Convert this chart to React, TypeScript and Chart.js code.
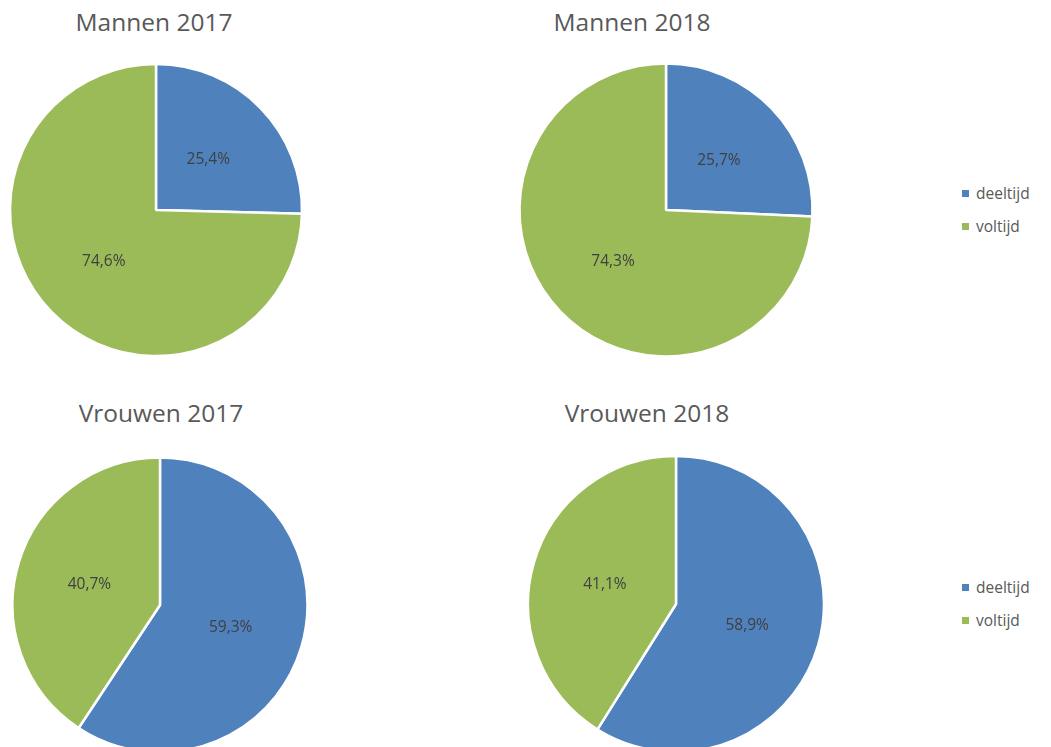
import React, { useEffect, useRef } from "react";
import { Chart, registerables } from "chart.js";

Chart.register(...registerables);

const categories = ["deeltijd", "voltijd"];
const chartTitles = ["Mannen 2017", "Mannen 2018", "Vrouwen 2017", "Vrouwen 2018"];
const mannen2017 = [25.4, 74.6];
const mannen2018 = [25.7, 74.3];
const vrouwen2017 = [59.3, 40.7];
const vrouwen2018 = [58.9, 41.1];
const seriesList = [mannen2017, mannen2018, vrouwen2017, vrouwen2018];
const sliceColors = ["#4F81BD", "#9BBB59"];

const FONT = "'Open Sans', 'DejaVu Sans', sans-serif";
const BOX = 310;

// layout: pie center, radius, title center/top
const layouts = [
  { cx: 156, cy: 209.5, r: 146, tx: 154, ty: 6 },
  { cx: 665.5, cy: 209.5, r: 146.5, tx: 632, ty: 6 },
  { cx: 159.5, cy: 604.5, r: 147.5, tx: 161, ty: 397 },
  { cx: 676, cy: 604, r: 148, tx: 647, ty: 397 },
];
const legendRows = [193, 587];

const labelPlugin = {
  id: "sliceLabels",
  afterDatasetsDraw(chart: any) {
    const ctx = chart.ctx;
    const meta = chart.getDatasetMeta(0);
    const data = chart.data.datasets[0].data as number[];
    ctx.save();
    ctx.font = `15.5px ${FONT}`;
    ctx.fillStyle = "#404040";
    ctx.textAlign = "center";
    ctx.textBaseline = "middle";
    meta.data.forEach((arc: any, i: number) => {
      const p = arc.getCenterPoint();
      ctx.fillText(data[i].toFixed(1).replace(".", ",") + "%", p.x, p.y + 1);
    });
    ctx.restore();
  },
};

function Pie({ idx }: { idx: number }) {
  const ref = useRef<HTMLCanvasElement>(null);
  const L = layouts[idx];
  useEffect(() => {
    if (!ref.current) return;
    const chart = new Chart(ref.current, {
      type: "pie",
      data: {
        labels: categories,
        datasets: [
          {
            data: seriesList[idx],
            backgroundColor: sliceColors,
            borderColor: "#ffffff",
            borderWidth: 2.5,
            hoverOffset: 0,
          },
        ],
      },
      options: {
        responsive: false,
        maintainAspectRatio: false,
        animation: false,
        radius: L.r,
        layout: { padding: 0 },
        plugins: {
          legend: { display: false },
          title: { display: false },
          tooltip: { enabled: false },
        },
      } as any,
      plugins: [labelPlugin],
    });
    return () => chart.destroy();
  }, [idx]);
  return (
    <canvas
      ref={ref}
      width={BOX}
      height={BOX}
      style={{
        position: "absolute",
        left: L.cx - BOX / 2,
        top: L.cy - BOX / 2,
        width: BOX,
        height: BOX,
      }}
    />
  );
}

export default function App() {
  return (
    <div
      style={{
        position: "absolute",
        left: 0,
        top: 0,
        width: 1051,
        height: 747,
        overflow: "hidden",
        background: "#ffffff",
        fontFamily: FONT,
      }}
    >
      {layouts.map((L, i) => (
        <React.Fragment key={i}>
          <Pie idx={i} />
          <div
            style={{
              position: "absolute",
              left: L.tx - 150,
              top: L.ty,
              width: 300,
              textAlign: "center",
              fontSize: 24.5,
              color: "#595959",
              lineHeight: "32px",
              whiteSpace: "nowrap",
            }}
          >
            {chartTitles[i]}
          </div>
        </React.Fragment>
      ))}
      {legendRows.map((y, r) => (
        <div key={r}>
          {categories.map((c, k) => (
            <div
              key={c}
              style={{
                position: "absolute",
                left: 962,
                top: y + k * 33 - 10,
                height: 20,
                display: "flex",
                alignItems: "center",
                fontSize: 15.5,
                color: "#595959",
                whiteSpace: "nowrap",
              }}
            >
              <span
                style={{
                  display: "inline-block",
                  width: 7,
                  height: 7,
                  background: sliceColors[k],
                  marginRight: 7,
                }}
              />
              {c}
            </div>
          ))}
        </div>
      ))}
    </div>
  );
}
